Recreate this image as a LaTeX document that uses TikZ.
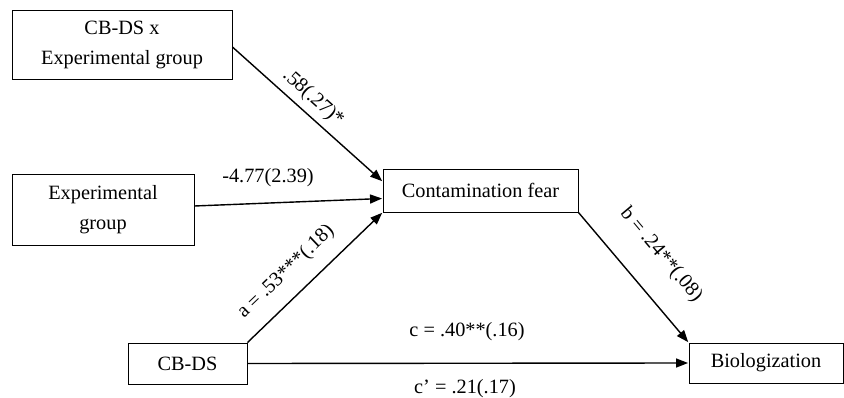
\documentclass[tikz,border=0pt]{standalone}
\usepackage{fontspec}
\setmainfont{Liberation Serif}
\usetikzlibrary{arrows.meta,calc}
\begin{document}
\begin{tikzpicture}[x=1pt,y=-1pt,
  box/.style={draw,line width=0.9pt,minimum height=#1,inner sep=0pt,align=center,font=\fontsize{20.3}{30}\selectfont},
  lab/.style={font=\fontsize{20.3}{24}\selectfont,inner sep=0pt},
  arr/.style={line width=1.4pt,-{Triangle[length=12pt,width=9pt]},shorten >=0.5pt}]
\useasboundingbox (0,0) rectangle (844,398);
\node[box=69pt,minimum width=220pt] (int) at (122,44.5) {CB-DS x\\Experimental group};
\node[box=71pt,minimum width=182pt] (exp) at (103,209.5) {Experimental\\group};
\node[box=41pt,minimum width=119pt] (cbds) at (187.5,363.5) {CB-DS};
\node[box=43pt,minimum width=195pt] (cf) at (480.5,190.5) {Contamination fear};
\node[box=40pt,minimum width=154pt] (bio) at (766,363) {Biologization};
\coordinate (cfa) at ($(cf.west)+(0,-9)$);
\coordinate (cfb) at ($(cf.west)+(0,8)$);
\coordinate (inta) at ($(int.east)+(0,2.5)$);
\coordinate (expa) at ($(exp.east)+(0,-3.5)$);
\draw[arr] (inta) -- (cfa);
\draw[arr] (expa) -- (cfb);
\draw[arr] (cbds.north east) -- (cf.south west);
\draw[arr] (cf.south east) -- (bio.north west);
\draw[arr] (cbds.east) -- (bio.west);
\node[lab,rotate=-42] (l1) at (313,98) {.58(.27)*};
\node[lab] (l2) at (268,178) {-4.77(2.39)};
\node[lab,rotate=43.7] (l3) at (286,272) {a = .53***(.18)};
\node[lab,rotate=-50] (l4) at (661,255) {b = .24**(.08)};
\node[lab] (l5) at (467,332) {c = .40**(.16)};
\node[lab] (l6) at (465,389) {c’ = .21(.17)};
\end{tikzpicture}
\end{document}
